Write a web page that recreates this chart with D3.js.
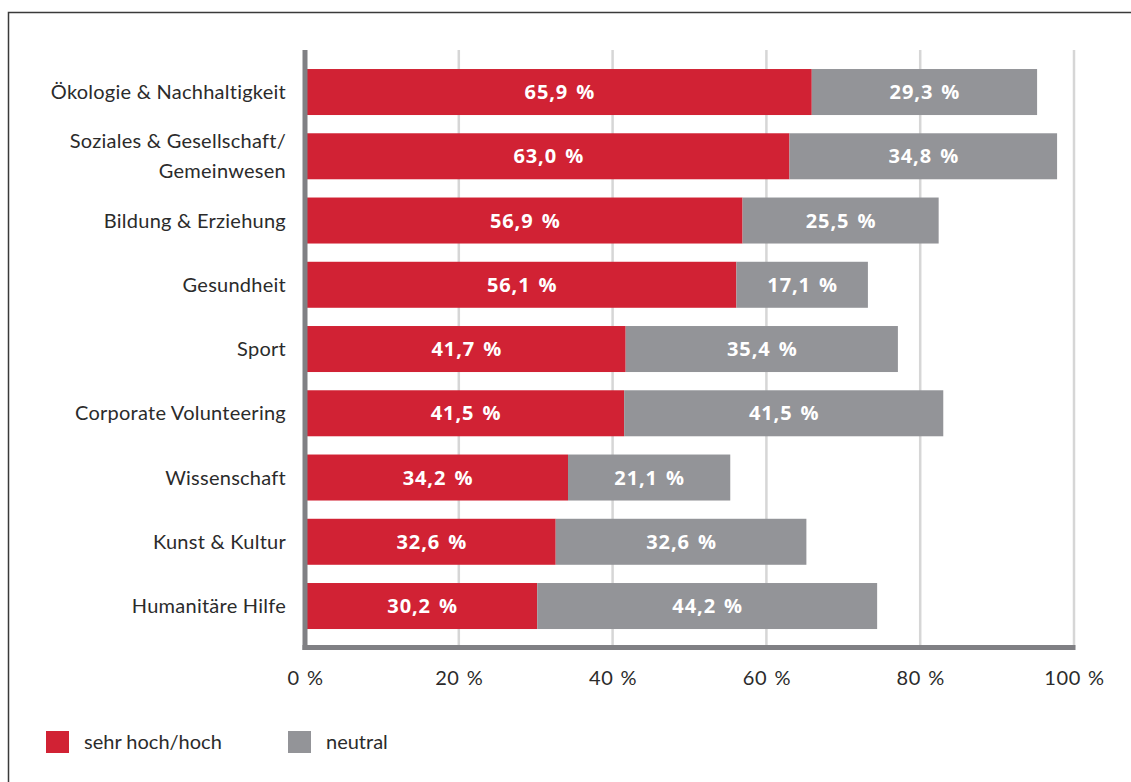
<!DOCTYPE html>
<html>
<head>
<meta charset="utf-8">
<script src="https://cdn.jsdelivr.net/npm/d3@7"></script>
<style>
  html, body { margin: 0; padding: 0; background: #fff; }
  svg { display: block; }
  text { font-family: Lato, "Noto Sans", sans-serif; }
</style>
</head>
<body>
<svg id="chart" width="1131" height="782"></svg>
<script>
// Interest by field of engagement (share of respondents, %)
const categories = [
  ["Ökologie & Nachhaltigkeit"],
  ["Soziales & Gesellschaft/", "Gemeinwesen"],
  ["Bildung & Erziehung"],
  ["Gesundheit"],
  ["Sport"],
  ["Corporate Volunteering"],
  ["Wissenschaft"],
  ["Kunst & Kultur"],
  ["Humanitäre Hilfe"]
];
const highValues    = [65.9, 63.0, 56.9, 56.1, 41.7, 41.5, 34.2, 32.6, 30.2];
const neutralValues = [29.3, 34.8, 25.5, 17.1, 35.4, 41.5, 21.1, 32.6, 44.2];
const xTicks = [0, 20, 40, 60, 80, 100];
const seriesNames = ["sehr hoch/hoch", "neutral"];

const colors = { high: "#d12234", neutral: "#939498", axis: "#808084", grid: "#d6d6d6", text: "#2b2b2b" };

const svg = d3.select("#chart");

// Outer frame (top and left edges)
svg.append("path")
  .attr("d", "M8.5,782 V12.5 H1131")
  .attr("fill", "none")
  .attr("stroke", "#3a3a3a")
  .attr("stroke-width", 1.5);

const x = d3.scaleLinear().domain([0, 100]).range([305, 1074]);
const y = d3.scaleBand()
  .domain(d3.range(categories.length))
  .range([59.9, 59.9 + 9 * 64.25])
  .paddingInner(0.284)
  .paddingOuter(0.142);

const plotTop = 50, plotBottom = 647.5;

// Vertical grid lines
svg.append("g")
  .selectAll("line")
  .data(xTicks.slice(1))
  .join("line")
  .attr("x1", d => x(d)).attr("x2", d => x(d))
  .attr("y1", plotTop).attr("y2", plotBottom)
  .attr("stroke", colors.grid)
  .attr("stroke-width", 2.5);

const fmt = v => d3.format(".1f")(v).replace(".", ",") + " %";

const rows = categories.map((c, i) => ({ i, high: highValues[i], neutral: neutralValues[i] }));

// Stacked segments
const segs = [];
rows.forEach(r => {
  segs.push({ i: r.i, x0: 0, x1: r.high, v: r.high, color: colors.high });
  segs.push({ i: r.i, x0: r.high, x1: r.high + r.neutral, v: r.neutral, color: colors.neutral });
});

svg.append("g")
  .selectAll("rect")
  .data(segs)
  .join("rect")
  .attr("x", d => x(d.x0))
  .attr("y", d => y(d.i))
  .attr("width", d => x(d.x1) - x(d.x0))
  .attr("height", y.bandwidth())
  .attr("fill", d => d.color);

// Value labels inside each segment
svg.append("g")
  .selectAll("text")
  .data(segs)
  .join("text")
  .attr("x", d => (x(d.x0) + x(d.x1)) / 2 + (d.x0 === 0 ? 1.5 : 0.5))
  .attr("y", d => y(d.i) + y.bandwidth() / 2)
  .attr("dy", "0.36em")
  .attr("text-anchor", "middle")
  .attr("fill", "#fff")
  .style("font-family", "'Open Sans', Lato, sans-serif")
  .style("font-weight", "bold")
  .style("font-size", "20px")
  .style("letter-spacing", "0.9px")
  .style("word-spacing", "2px")
  .text(d => fmt(d.v));

// Category labels
const catG = svg.append("g");
categories.forEach((lines, i) => {
  const cy = y(i) + y.bandwidth() / 2;
  const t = catG.append("text")
    .attr("text-anchor", "end")
    .attr("fill", colors.text)
    .style("font-size", "20px")
    .style("letter-spacing", "0.25px");
  lines.forEach((ln, k) => {
    t.append("tspan")
      .attr("x", 286)
      .attr("y", cy + (k - (lines.length - 1) / 2) * 30)
      .attr("dy", "0.36em")
      .text(ln);
  });
});

// Axis lines
svg.append("line")
  .attr("x1", x(0)).attr("x2", x(0))
  .attr("y1", plotTop).attr("y2", plotBottom + 2.5)
  .attr("stroke", colors.axis).attr("stroke-width", 5);
svg.append("line")
  .attr("x1", x(0) - 2.5).attr("x2", x(100) + 1.5)
  .attr("y1", plotBottom).attr("y2", plotBottom)
  .attr("stroke", colors.axis).attr("stroke-width", 5);

// Tick labels
const xAxis = d3.axisBottom(x)
  .tickValues(xTicks)
  .tickSize(0)
  .tickPadding(0)
  .tickFormat(d => d + " %");
const ax = svg.append("g")
  .attr("transform", "translate(0,671)")
  .call(xAxis);
ax.select(".domain").remove();
ax.selectAll("text")
  .style("font-size", "20px")
  .style("font-family", "Lato, 'Noto Sans', sans-serif")
  .style("letter-spacing", "0.6px")
  .style("word-spacing", "1.5px")
  .attr("fill", colors.text);

// Legend
const legend = svg.append("g");
const legendItems = [
  { name: seriesNames[0], color: colors.high, x: 46 },
  { name: seriesNames[1], color: colors.neutral, x: 288 }
];
legendItems.forEach(it => {
  legend.append("rect")
    .attr("x", it.x).attr("y", 731)
    .attr("width", 23).attr("height", 22)
    .attr("fill", it.color);
  legend.append("text")
    .attr("x", it.x + 38).attr("y", 742)
    .attr("dy", "0.36em")
    .attr("fill", colors.text)
    .style("font-size", "20px")
    .text(it.name);
});
</script>
</body>
</html>
